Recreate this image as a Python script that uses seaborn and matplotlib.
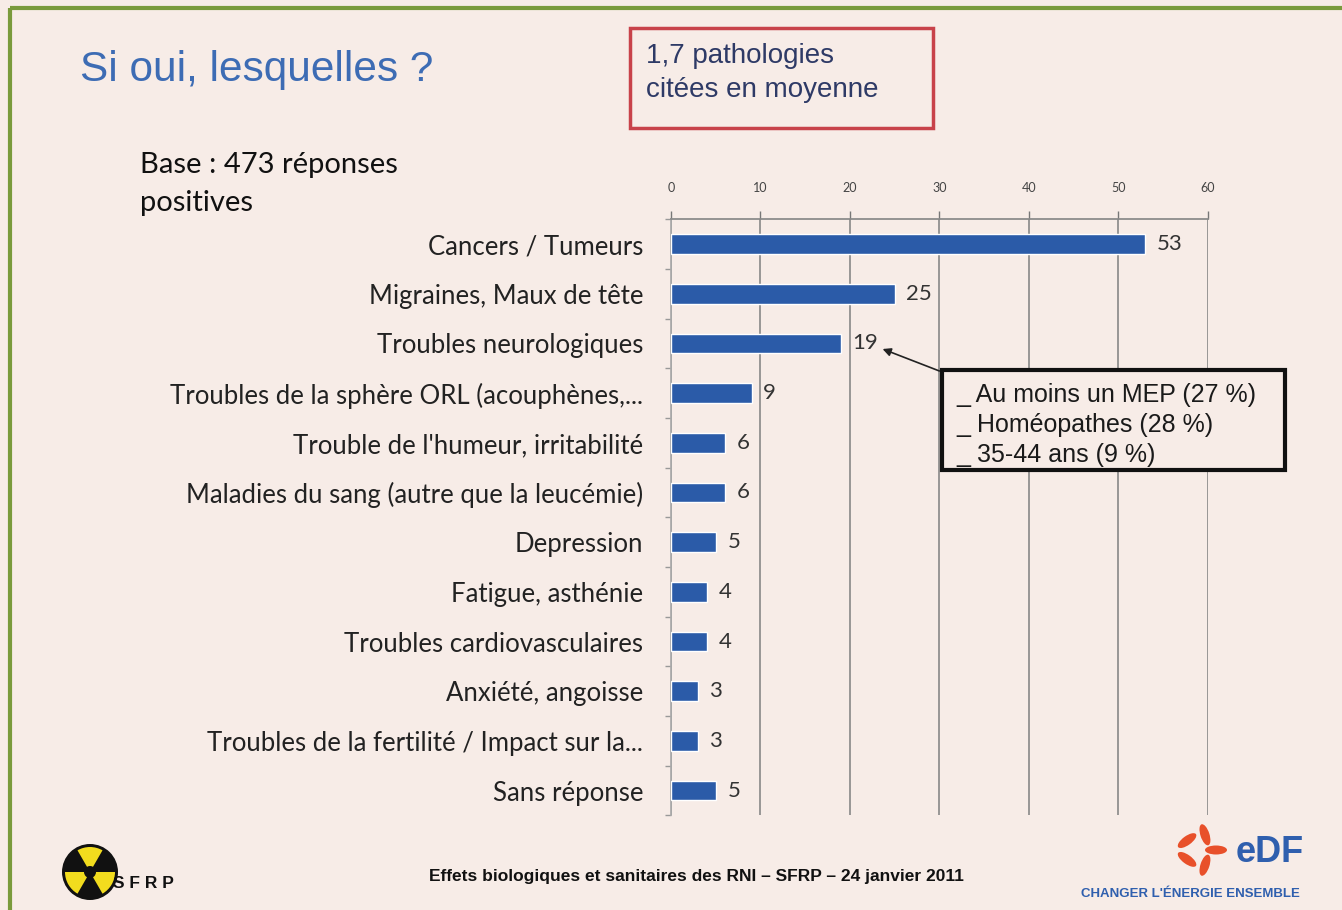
import numpy as np
import pandas as pd
import seaborn as sns
import matplotlib.pyplot as plt
from matplotlib.patches import Rectangle, Wedge, Circle, Ellipse

# data
categories = [
    "Cancers / Tumeurs",
    "Migraines, Maux de tête",
    "Troubles neurologiques",
    "Troubles de la sphère ORL (acouphènes,...",
    "Trouble de l'humeur, irritabilité",
    "Maladies du sang (autre que la leucémie)",
    "Depression",
    "Fatigue, asthénie",
    "Troubles cardiovasculaires",
    "Anxiété, angoisse",
    "Troubles de la fertilité / Impact sur la...",
    "Sans réponse",
]
values = [53, 25, 19, 9, 6, 6, 5, 4, 4, 3, 3, 5]
x_ticks = [0, 10, 20, 30, 40, 50, 60]
callout_lines = ["_ Au moins un MEP (27 %)", "_ Homéopathes (28 %)", "_ 35-44 ans (9 %)"]

BG = "#f7ece7"
BAR = "#2b5ba8"

sns.set_theme(style="white")
plt.rcParams["font.family"] = ["Lato", "DejaVu Sans"]

df = pd.DataFrame({"Pathologie": categories, "Pourcentage": values})

fig = plt.figure(figsize=(13.42, 9.10), dpi=100, facecolor=BG)


def pixel_layer(z):
    # full-figure axes in pixel coordinates for the slide decorations
    a = fig.add_axes([0, 0, 1, 1], zorder=z)
    a.set_xlim(0, 1342)
    a.set_ylim(910, 0)
    a.axis("off")
    a.patch.set_alpha(0)
    return a


deco = pixel_layer(0)

# green slide border
deco.add_patch(Rectangle((10, 8), 1340, 910, fill=False, ec="#7a9a3c", lw=3))

deco.text(80, 70, "Si oui, lesquelles ?", fontsize=30.5, color="#3d6cb4",
          family="Liberation Sans", va="center", ha="left")

deco.add_patch(Rectangle((630, 28), 303, 100, fill=False, ec="#c8424a", lw=2.5))
deco.text(646, 56, "1,7 pathologies", fontsize=20, color="#2e3a66",
          family="Liberation Sans", va="center")
deco.text(646, 90, "citées en moyenne", fontsize=20, color="#2e3a66",
          family="Liberation Sans", va="center")

deco.text(140, 165, "Base : 473 réponses", fontsize=21, color="#111111", va="center")
deco.text(140, 203, "positives", fontsize=21, color="#111111", va="center")

# footer
deco.text(696, 877, "Effets biologiques et sanitaires des RNI – SFRP – 24 janvier 2011",
          fontsize=12.5, fontweight="bold", color="#111111",
          family="Liberation Sans", ha="center", va="center")

# SFRP logo (rough)
cx, cy, r = 90, 872, 28
deco.add_patch(Circle((cx, cy), r, fc="#111111", ec="none"))
for a in (30, 150, 270):
    deco.add_patch(Wedge((cx, cy), r - 3, a - 30, a + 30, fc="#f2dc1e", ec="none"))
deco.add_patch(Circle((cx, cy), 6, fc="#111111", ec="none"))
deco.text(113, 884, "S F R P", fontsize=12.5, fontweight="bold", color="#111111",
          family="Liberation Sans", va="center")

# EDF logo (rough)
fx, fy = 1200, 850
for ang in range(0, 360, 72):
    t = np.deg2rad(ang)
    deco.add_patch(Ellipse((fx + 16 * np.cos(t), fy + 16 * np.sin(t)), 22, 9,
                           angle=-ang, fc="#e8502a", ec="none"))
deco.text(1236, 852, "eDF", fontsize=26, fontweight="bold", color="#2f5fae",
          family="Liberation Sans", va="center")
deco.text(1190, 894, "CHANGER L'ÉNERGIE ENSEMBLE", fontsize=9.5, fontweight="bold",
          color="#2f5fae", family="Liberation Sans", ha="center", va="center")

# the bar chart itself
ax = fig.add_axes([0.5, 0.104, 0.4, 0.655], zorder=2)
ax.patch.set_alpha(0)
sns.barplot(data=df, x="Pourcentage", y="Pathologie", orient="h",
            color=BAR, width=0.4, saturation=1, ax=ax, zorder=3)

ax.set_xlim(0, 60)
ax.set_ylim(len(categories) - 0.5, -0.5)
ax.xaxis.tick_top()
ax.set_xticks(x_ticks)
ax.set_xticklabels([str(t) for t in x_ticks], fontsize=9, color="#444444")
ax.tick_params(axis="x", length=6, width=1, color="#777777", pad=12, top=True)
ax.set_yticks(range(len(categories)))
ax.set_yticklabels(categories, fontsize=18.5, color="#222222")
ax.tick_params(axis="y", length=0, pad=20)
ax.set_yticks(np.arange(-0.5, len(categories), 1), minor=True)
ax.tick_params(axis="y", which="minor", length=4, color="#999999", left=True)
ax.set_xlabel("")
ax.set_ylabel("")

ax.grid(axis="x", color="#888888", lw=1.2, zorder=0)
ax.grid(axis="y", visible=False)
for side in ("bottom", "right"):
    ax.spines[side].set_visible(False)
ax.spines["top"].set_color("#888888")
ax.spines["left"].set_color("#aaaaaa")

for i, v in enumerate(values):
    ax.text(v + 1.3, i, str(v), fontsize=16, color="#333333", va="center", ha="left")

# callout box with arrow, above the chart grid
top = pixel_layer(3)
top.add_patch(Rectangle((942, 370), 343, 100, fill=True, fc=BG, ec="#111111", lw=3))
for i, line in enumerate(callout_lines):
    top.text(956, 395 + i * 30, line, fontsize=18, color="#1a1a1a",
             family="Liberation Sans", va="center")
top.annotate("", xy=(880, 348), xytext=(942, 372),
             arrowprops=dict(arrowstyle="-|>", color="#222222", lw=1.2))

fig.savefig("out.png", dpi=100, facecolor=BG)
